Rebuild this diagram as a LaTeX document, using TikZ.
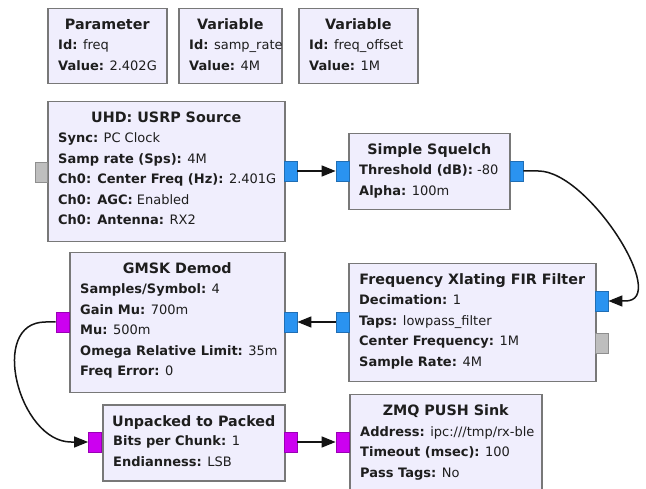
\documentclass[tikz,border=0pt]{standalone}
\usepackage{fontspec}
\setmainfont{DejaVu Sans}
\usetikzlibrary{calc,arrows.meta}

\definecolor{blockfill}{HTML}{F0EEFD}
\definecolor{blockedge}{HTML}{787878}
\definecolor{textcol}{HTML}{1E1E1E}
\definecolor{cplxport}{HTML}{2A93F0}
\definecolor{byteport}{HTML}{CC00F0}
\definecolor{msgport}{HTML}{BEBEBE}
\definecolor{wirecol}{HTML}{141414}

\tikzset{
  blockbox/.style={draw=blockedge, line width=1.5pt, fill=blockfill,
    inner sep=0pt, anchor=north west},
  blocktitle/.style={anchor=base, inner sep=0pt, text=textcol,
    font=\fontsize{14.3pt}{16pt}\selectfont\bfseries},
  blockline/.style={anchor=base west, inner sep=0pt, text=textcol,
    font=\fontsize{13pt}{15pt}\selectfont},
  port/.style={draw=#1!75!black, fill=#1, line width=0.8pt,
    minimum width=13pt, minimum height=20pt, inner sep=0pt},
  wire/.style={line width=1.5pt, draw=wirecol,
    -{Triangle[length=14pt,width=11pt,fill=wirecol]}},
}

% name, left, top, width, height, title, parameter lines
\newcommand\grcblock[7]{%
  \node[blockbox, minimum width=#4pt, minimum height=#5pt] (#1) at (#2,#3) {};
  \node[blocktitle] (#1-title) at ($(#1.north)+(0,22)$) {#6};
  \foreach \blk [count=\i] in {#7} {
    \node[blockline] (#1-line\i) at ($(#1.north west)+(11,21.5+20.5*\i)$) {\blk};
  }%
}

\begin{document}
\begin{tikzpicture}[x=1pt, y=-1pt]
  \fill[white] (0,0) rectangle (646,489);
  \clip (0,0) rectangle (646,489);

  % variables and parameters
  \grcblock{param}{47}{8}{119}{75}{Parameter}
    {{\textbf{Id:} freq},{\textbf{Value:} 2.402G}}
  \grcblock{samprate}{178}{8}{103}{75}{Variable}
    {{\textbf{Id:} samp\_rate},{\textbf{Value:} 4M}}
  \grcblock{freqoff}{298}{8}{119}{75}{Variable}
    {{\textbf{Id:} freq\_offset},{\textbf{Value:} 1M}}

  % signal processing blocks
  \grcblock{uhd}{47}{101}{237}{140}{UHD: USRP Source}
    {{\textbf{Sync:} PC Clock},
     {\textbf{Samp rate (Sps):} 4M},
     {\textbf{Ch0: Center Freq (Hz):} 2.401G},
     {\textbf{Ch0: AGC:} Enabled},
     {\textbf{Ch0: Antenna:} RX2}}
  \grcblock{squelch}{348}{133}{161}{76}{Simple Squelch}
    {{\textbf{Threshold (dB):} -80},
     {\textbf{Alpha:} 100m}}
  \grcblock{xlate}{348}{263}{247}{118}{Frequency Xlating FIR Filter}
    {{\textbf{Decimation:} 1},
     {\textbf{Taps:} lowpass\_filter},
     {\textbf{Center Frequency:} 1M},
     {\textbf{Sample Rate:} 4M}}
  \grcblock{gmsk}{69}{252}{215}{140}{GMSK Demod}
    {{\textbf{Samples/Symbol:} 4},
     {\textbf{Gain Mu:} 700m},
     {\textbf{Mu:} 500m},
     {\textbf{Omega Relative Limit:} 35m},
     {\textbf{Freq Error:} 0}}
  \grcblock{unpack}{102}{404}{182}{76}{Unpacked to Packed}
    {{\textbf{Bits per Chunk:} 1},
     {\textbf{Endianness:} LSB}}
  \grcblock{zmq}{349}{394}{192}{97}{ZMQ PUSH Sink}
    {{\textbf{Address:} ipc:///tmp/rx-ble},
     {\textbf{Timeout (msec):} 100},
     {\textbf{Pass Tags:} No}}

  % ports
  \node[port=msgport, minimum width=12pt] (uhd-cmd) at (41,172) {};
  \node[port=cplxport] (uhd-out) at (290.5,171) {};
  \node[port=cplxport] (sq-in) at (342.5,171) {};
  \node[port=cplxport] (sq-out) at (516.5,171) {};
  \node[port=cplxport] (xl-in) at (601.5,301) {};
  \node[port=msgport] (xl-cmd) at (601.5,343) {};
  \node[port=cplxport] (xl-out) at (342.5,322) {};
  \node[port=cplxport] (gm-in) at (290.5,322) {};
  \node[port=byteport] (gm-out) at (62.5,322) {};
  \node[port=byteport] (up-in) at (95,442) {};
  \node[port=byteport] (up-out) at (290.5,442) {};
  \node[port=byteport] (zmq-in) at (342.5,442) {};

  % connections
  \draw[wire] (uhd-out.east) -- (sq-in.west);
  \draw[wire] (sq-out.east) -- ++(15,0)
    .. controls +(50,0) and +(45,0) .. ($(xl-in.east)+(17,0)$)
    -- (xl-in.east);
  \draw[wire] (xl-out.west) -- (gm-in.east);
  \draw[wire] (gm-out.west) -- ++(-10,0)
    .. controls +(-58,0) and +(-52,0) .. ($(up-in.west)+(-17,0)$)
    -- (up-in.west);
  \draw[wire] (up-out.east) -- (zmq-in.west);
\end{tikzpicture}
\end{document}
